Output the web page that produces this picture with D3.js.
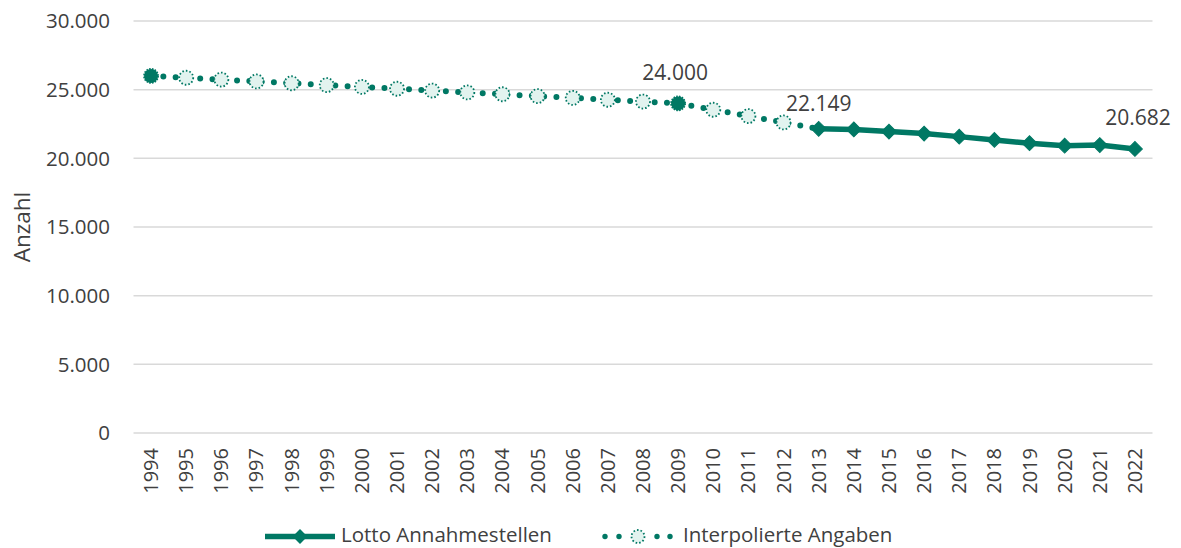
<!DOCTYPE html>
<html><head><meta charset="utf-8">
<script src="https://cdn.jsdelivr.net/npm/d3@7"></script>
<style>body{margin:0;background:#fff}svg{display:block}text{font-family:"Open Sans",sans-serif;fill:#404040}</style>
</head><body><svg id="c" width="1181" height="548"></svg>
<script>
const years = ["1994","1995","1996","1997","1998","1999","2000","2001","2002","2003","2004","2005","2006","2007","2008","2009","2010","2011","2012","2013","2014","2015","2016","2017","2018","2019","2020","2021","2022"];
// Lotto Annahmestellen (reported values; null = not reported)
const lotto = [26000,null,null,null,null,null,null,null,null,null,null,null,null,null,null,24000,null,null,null,22149,22100,21950,21800,21580,21340,21100,20920,20970,20682];
// Interpolierte Angaben (1994–2013)
const interp = [26000,25867,25733,25600,25467,25333,25200,25067,24933,24800,24667,24533,24400,24267,24133,24000,23537,23075,22612,22149,null,null,null,null,null,null,null,null,null];
const yTicks = [0,5000,10000,15000,20000,25000,30000];
const labelled = {"2009":"24.000","2013":"22.149","2022":"20.682"};
const color = "#007864", light = "#e2f3ef";

const svg = d3.select("#c");
const x = d3.scaleBand().domain(years).range([133.5,1152.5]).paddingInner(0).paddingOuter(0);
const y = d3.scaleLinear().domain([0,30000]).range([433,21]);
const cx = d => x(d) + x.bandwidth()/2;
const fmt = v => d3.format(",")(v).replace(/,/g,".");

// gridlines
svg.append("g").selectAll("line").data(yTicks).join("line")
  .attr("x1",133.5).attr("x2",1152.5).attr("y1",d=>y(d)).attr("y2",d=>y(d))
  .attr("stroke","#d9d9d9").attr("stroke-width",1.5);
// y axis labels
svg.append("g").selectAll("text").data(yTicks).join("text")
  .attr("x",110).attr("y",d=>y(d)).attr("dy","0.35em").attr("text-anchor","end")
  .attr("font-size",20.5).text(fmt);
// x labels
svg.append("g").selectAll("text").data(years).join("text")
  .attr("transform",d=>`translate(${cx(d)},${448}) rotate(-90)`)
  .attr("dy","0.35em").attr("text-anchor","end").attr("font-size",20).text(d=>d);
// axis title
svg.append("text").attr("transform","translate(22,227) rotate(-90)").attr("text-anchor","middle")
  .attr("dy","0.35em").attr("font-size",22.5).text("Anzahl");

const pts = (arr) => years.map((yr,i)=>({yr,v:arr[i]}));
const line = d3.line().defined(d=>d.v!=null).x(d=>cx(d.yr)).y(d=>y(d.v));

// interpolated dotted line
svg.append("path").datum(pts(interp)).attr("d",line).attr("fill","none")
  .attr("stroke",color).attr("stroke-width",6).attr("stroke-linecap","round").attr("stroke-dasharray","0 12.3");
// solid line (consecutive reported values)
const lp = pts(lotto).map((d,i,a)=>({...d, v: (d.v!=null && ((a[i-1]&&a[i-1].v!=null)||(a[i+1]&&a[i+1].v!=null)))?d.v:null}));
svg.append("path").datum(lp).attr("d",line).attr("fill","none")
  .attr("stroke",color).attr("stroke-width",5.5);

// interpolated markers
const ip = pts(interp).filter((d,i)=>d.v!=null && lotto[i]==null);
svg.append("g").selectAll("circle").data(ip).join("circle")
  .attr("cx",d=>cx(d.yr)).attr("cy",d=>y(d.v)).attr("r",7)
  .attr("fill",light).attr("stroke",color).attr("stroke-width",1.8).attr("stroke-dasharray","1.6 2");
// reported markers
const rp = pts(lotto).filter(d=>d.v!=null);
const isolated = new Set(pts(lotto).filter((d,i)=>d.v!=null && lp[i].v==null).map(d=>d.yr));
const mg = svg.append("g");
rp.forEach(d=>{
  if (isolated.has(d.yr)) {
    mg.append("circle").attr("cx",cx(d.yr)).attr("cy",y(d.v)).attr("r",7)
      .attr("fill",color).attr("stroke",color).attr("stroke-width",1.8).attr("stroke-dasharray","1.6 1.2");
  } else {
    mg.append("path").attr("d",d3.symbol(d3.symbolSquare,110)()).attr("transform",`translate(${cx(d.yr)},${y(d.v)}) rotate(45)`)
      .attr("fill",color).attr("stroke",color).attr("stroke-width",1);
  }
});

// data labels
const labOff = {"2009":[-3,-23],"2013":[0,-18],"2022":[3,-24]};
svg.append("g").selectAll("text").data(rp.filter(d=>labelled[d.yr])).join("text")
  .attr("x",d=>cx(d.yr)+labOff[d.yr][0]).attr("y",d=>y(d.v)+labOff[d.yr][1])
  .attr("text-anchor","middle").attr("font-size",21).text(d=>labelled[d.yr]);

// legend
const lg = svg.append("g");
const ly = 536.5;
lg.append("line").attr("x1",265).attr("x2",335).attr("y1",ly).attr("y2",ly).attr("stroke",color).attr("stroke-width",5.5);
lg.append("path").attr("d",d3.symbol(d3.symbolSquare,110)()).attr("transform",`translate(300,${ly}) rotate(45)`).attr("fill",color);
lg.append("text").attr("x",341).attr("y",542).attr("font-size",20.5).text("Lotto Annahmestellen");
lg.selectAll("circle.ld").data([605,619,657,670]).join("circle").attr("class","ld")
  .attr("cx",d=>d).attr("cy",ly).attr("r",2.7).attr("fill",color);
lg.append("circle").attr("cx",638).attr("cy",ly).attr("r",6.5).attr("fill",light).attr("stroke",color)
  .attr("stroke-width",1.8).attr("stroke-dasharray","1.6 2");
lg.append("text").attr("x",683).attr("y",542).attr("font-size",20.5).text("Interpolierte Angaben");
</script></body></html>
